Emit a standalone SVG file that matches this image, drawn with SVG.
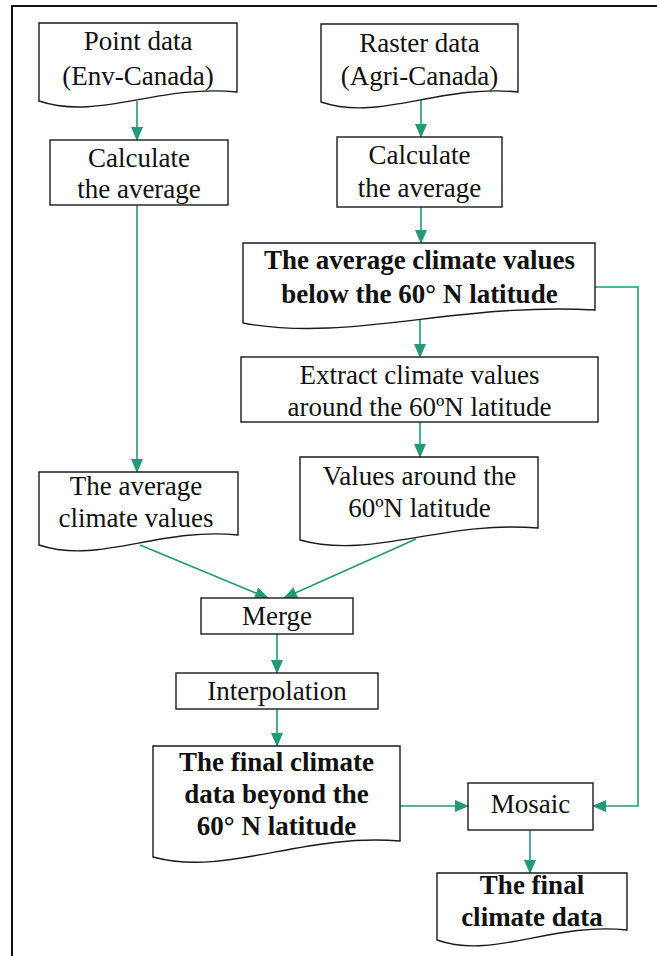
<svg xmlns="http://www.w3.org/2000/svg" width="657" height="956" viewBox="0 0 657 956">
  <defs>
    <marker id="arrow" markerUnits="userSpaceOnUse" markerWidth="14" markerHeight="12" viewBox="0 0 14 12" refX="13" refY="6" orient="auto">
      <path d="M0,0 L14,6 L0,12 Z" fill="#23997a"/>
    </marker>
  </defs>
  <style>
    .frame { fill: none; stroke: #111; stroke-width: 2; }
    .box { fill: #fff; stroke: #1a1a1a; stroke-width: 1.4; }
    .link { fill: none; stroke: #23997a; stroke-width: 1.6; marker-end: url(#arrow); }
    .plain { fill: none; stroke: #23997a; stroke-width: 1.6; }
    text { font-family: "Liberation Serif", "Times New Roman", serif; font-size: 27px; fill: #111; text-anchor: middle; }
    .b { font-weight: bold; }
  </style>

  <!-- outer frame (top and left edges) -->
  <path class="frame" d="M12,960 V6 H660"/>

  <!-- connectors -->
  <g id="connectors">
    <line class="link" x1="137" y1="101" x2="137" y2="140"/>
    <line class="link" x1="421" y1="100" x2="421" y2="137"/>
    <line class="link" x1="137" y1="205" x2="137" y2="472"/>
    <line class="link" x1="421" y1="207" x2="421" y2="243"/>
    <line class="link" x1="420" y1="318" x2="420" y2="357"/>
    <line class="link" x1="420" y1="422" x2="420" y2="457"/>
    <line class="link" x1="140" y1="545" x2="268" y2="598"/>
    <line class="link" x1="416" y1="539" x2="284" y2="598"/>
    <line class="link" x1="277" y1="634" x2="277" y2="673"/>
    <line class="link" x1="277" y1="709" x2="277" y2="746"/>
    <line class="link" x1="400" y1="806" x2="468" y2="806"/>
    <polyline class="link" points="595,287 638,287 638,806 593,806"/>
    <line class="link" x1="530" y1="830" x2="530" y2="873"/>
  </g>

  <!-- source: point data -->
  <g id="point-data">
    <path class="box" d="M39,23 H237 V92 C158,84 98,121 39,101 Z"/>
    <text x="138" y="50">Point data</text>
    <text x="138" y="85">(Env-Canada)</text>
  </g>

  <!-- source: raster data -->
  <g id="raster-data">
    <path class="box" d="M321,24 H518 V92 C439,84 380,122 321,102 Z"/>
    <text x="419.5" y="52">Raster data</text>
    <text x="419.5" y="85">(Agri-Canada)</text>
  </g>

  <g id="calc-point">
    <rect class="box" x="50" y="140" width="178" height="65"/>
    <text x="139" y="167">Calculate</text>
    <text x="139" y="198">the average</text>
  </g>

  <g id="calc-raster">
    <rect class="box" x="337" y="137" width="165" height="70"/>
    <text x="419.5" y="164">Calculate</text>
    <text x="419.5" y="197">the average</text>
  </g>

  <g id="avg-below-60">
    <path class="box" d="M243,243 H595 V310 C455,302 349,343 243,323 Z"/>
    <text class="b" x="419.5" y="269">The average climate values</text>
    <text class="b" x="419.5" y="303">below the 60° N latitude</text>
  </g>

  <g id="extract">
    <rect class="box" x="241" y="357" width="357" height="65"/>
    <text x="419.5" y="384">Extract climate values</text>
    <text x="419.5" y="416">around the 60ºN latitude</text>
  </g>

  <g id="values-60">
    <path class="box" d="M300,457 H538 V528 C443,520 371,560 300,540 Z"/>
    <text x="419.5" y="485">Values around the</text>
    <text x="419.5" y="517">60ºN latitude</text>
  </g>

  <g id="avg-point">
    <path class="box" d="M39,472 H238 V535 C158,527 99,565 39,545 Z"/>
    <text x="136" y="495">The average</text>
    <text x="136" y="527">climate values</text>
  </g>

  <g id="merge">
    <rect class="box" x="201" y="598" width="152" height="36"/>
    <text x="277" y="625">Merge</text>
  </g>

  <g id="interpolation">
    <rect class="box" x="176" y="673" width="202" height="36"/>
    <text x="277" y="700">Interpolation</text>
  </g>

  <g id="final-beyond-60">
    <path class="box" d="M153,746 H400 V841 C301,833 227,877 153,857 Z"/>
    <text class="b" x="276.5" y="771">The final climate</text>
    <text class="b" x="276.5" y="803">data beyond the</text>
    <text class="b" x="276.5" y="835">60° N latitude</text>
  </g>

  <g id="mosaic">
    <rect class="box" x="468" y="783" width="125" height="47"/>
    <text x="530.5" y="813">Mosaic</text>
  </g>

  <g id="final-data">
    <path class="box" d="M437,873 H627 V930 C551,922 494,960 437,940 Z"/>
    <text class="b" x="532" y="894">The final</text>
    <text class="b" x="532" y="926">climate data</text>
  </g>
</svg>
